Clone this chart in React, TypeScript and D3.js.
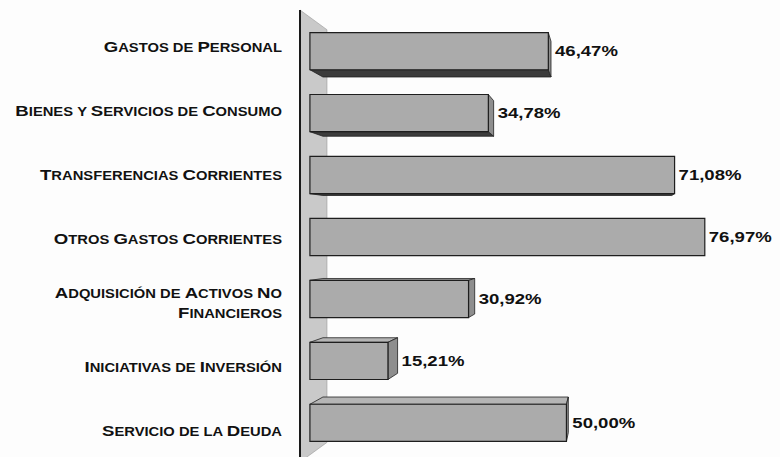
import React from "react";
import * as d3 from "d3";

const categories: string[][] = [
  ["Gastos de Personal"],
  ["Bienes y Servicios de Consumo"],
  ["Transferencias Corrientes"],
  ["Otros Gastos Corrientes"],
  ["Adquisición de Activos No", "Financieros"],
  ["Iniciativas de Inversión"],
  ["Servicio de la Deuda"],
];
const values: number[] = [46.47, 34.78, 71.08, 76.97, 30.92, 15.21, 50.0];
const valueLabels: string[] = ["46,47%", "34,78%", "71,08%", "76,97%", "30,92%", "15,21%", "50,00%"];

const W = 780;
const H = 457;
const VP = { x: 610, y: 237 };
const T1 = 0.032;
const T2 = 0.074;
const TW = 0.087;
const SX = 1.2;

const proj = (x: number, y: number, t: number): [number, number] => [
  x + (VP.x - x) * t,
  y + (VP.y - y) * t,
];
const pts = (arr: [number, number][]) => arr.map((p) => p.join(",")).join(" ");

const SMALL = new Set(["de", "la", "y"]);

function SmallCaps({ text, x, y }: { text: string; x: number; y: number }) {
  const words = text.split(" ");
  const big = 15.5;
  const small = 12.3;
  const parts: React.ReactNode[] = [];
  words.forEach((w, i) => {
    const sep = i < words.length - 1 ? " " : "";
    if (SMALL.has(w.toLowerCase())) {
      parts.push(
        <tspan key={i + "s"} fontSize={small}>
          {w.toUpperCase() + sep}
        </tspan>
      );
    } else {
      parts.push(
        <tspan key={i + "a"} fontSize={big}>
          {w[0].toUpperCase()}
        </tspan>
      );
      parts.push(
        <tspan key={i + "b"} fontSize={small}>
          {w.slice(1).toUpperCase() + sep}
        </tspan>
      );
    }
  });
  return (
    <text
      transform={`translate(${x},${y}) scale(${SX},1)`}
      textAnchor="end"
      fontFamily="Liberation Sans, Arial, sans-serif"
      fontWeight="bold"
      fill="#111"
    >
      {parts}
    </text>
  );
}

export default function App() {
  const yScale = d3
    .scaleBand<number>()
    .domain(d3.range(values.length))
    .range([13, 461])
    .paddingInner(0.4)
    .paddingOuter(0.2);
  const xScale = d3.scaleLinear().domain([0, 100]).range([300, 830]);

  const x0 = xScale(0);
  const wallTop = 10;
  const wallBot = 462;
  const wall: [number, number][] = [
    proj(x0, wallTop, 0),
    proj(x0, wallTop, TW),
    proj(x0, wallBot, TW),
    proj(x0, wallBot, 0),
  ];

  return (
    <svg
      width={W}
      height={H}
      style={{ position: "absolute", left: 0, top: 0, background: "#fff" }}
    >
      <rect x={0} y={0} width={W} height={H} fill="#fdfdfd" />
      <polygon points={pts(wall)} fill="#c9c9c9" stroke="#999" strokeWidth={0.6} />
      <line x1={x0} y1={wallTop} x2={x0} y2={H} stroke="#1a1a1a" strokeWidth={2} />

      {values.map((v, i) => {
        const yt = yScale(i)!;
        const yb = yt + yScale.bandwidth();
        const xr = xScale(v);
        const fTL = proj(x0, yt, T1);
        const fTR = proj(xr, yt, T1);
        const fBR = proj(xr, yb, T1);
        const fBL = proj(x0, yb, T1);
        const bTL = proj(x0, yt, T2);
        const bTR = proj(xr, yt, T2);
        const bBR = proj(xr, yb, T2);
        const bBL = proj(x0, yb, T2);
        const faces: React.ReactNode[] = [];
        if (bBL[1] > fBL[1]) {
          faces.push(
            <polygon key="bot" points={pts([fBL, fBR, bBR, bBL])} fill="#3c3c3c" stroke="#222" strokeWidth={0.8} />
          );
        }
        if (bTL[1] < fTL[1]) {
          faces.push(
            <polygon key="top" points={pts([fTL, fTR, bTR, bTL])} fill="#b5b5b5" stroke="#222" strokeWidth={0.8} />
          );
        }
        if (bTR[0] > fTR[0]) {
          faces.push(
            <polygon key="side" points={pts([fTR, bTR, bBR, fBR])} fill="#8e8e8e" stroke="#222" strokeWidth={0.8} />
          );
        }
        const cy = (fTL[1] + fBL[1]) / 2;
        const lx = Math.max(fTR[0], bTR[0]) + 4;
        return (
          <g key={i}>
            {faces}
            <polygon points={pts([fTL, fTR, fBR, fBL])} fill="#ababab" stroke="#1e1e1e" strokeWidth={1.2} />
            <text
              transform={`translate(${lx},${cy + 5}) scale(1.28,1)`}
              fontFamily="Liberation Sans, Arial, sans-serif"
              fontWeight="bold"
              fontSize={14.5}
              fill="#111"
            >
              {valueLabels[i]}
            </text>
          </g>
        );
      })}

      {categories.map((lines, i) => {
        const cy = yScale(i)! + yScale.bandwidth() / 2 + 2;
        const n = lines.length;
        return (
          <g key={"c" + i}>
            {lines.map((ln, j) => (
              <SmallCaps key={j} text={ln} x={282} y={cy + 5 + (j - (n - 1) / 2) * 20} />
            ))}
          </g>
        );
      })}
    </svg>
  );
}
